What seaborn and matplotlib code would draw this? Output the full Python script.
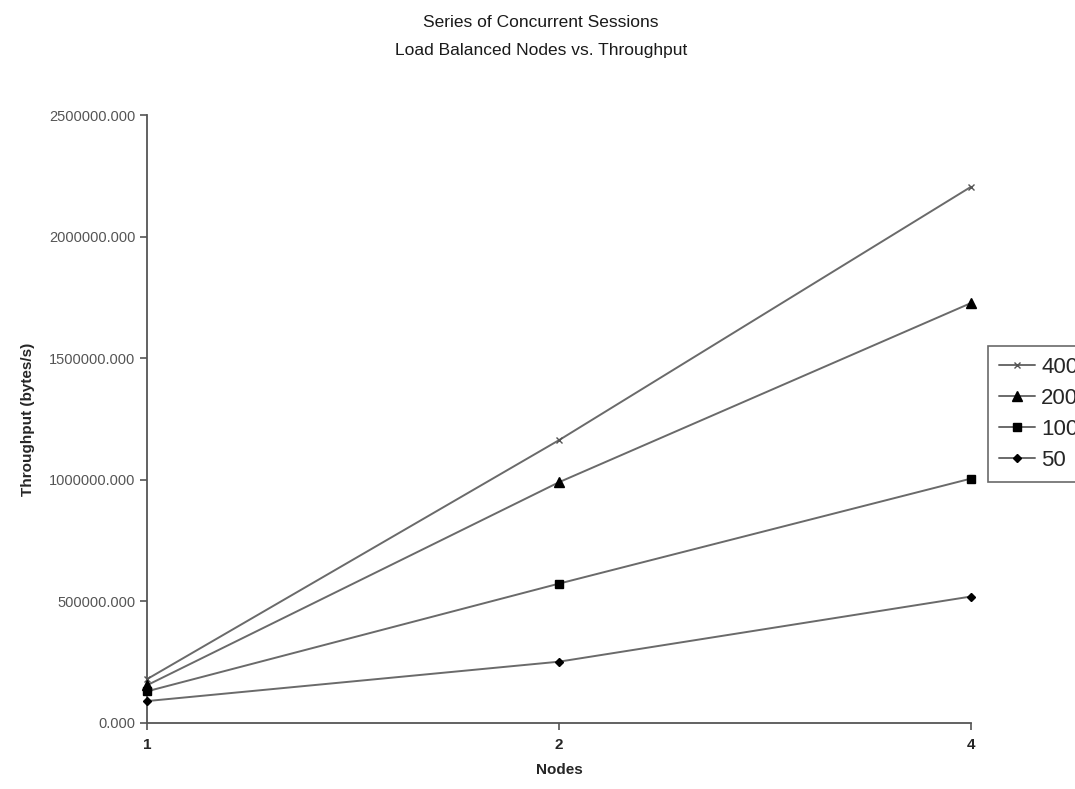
import pandas as pd
import matplotlib
matplotlib.use("Agg")
import matplotlib.pyplot as plt
import matplotlib.ticker as mticker
import seaborn as sns

# ── data ─────────────────────────────────────────────────────────────────────
nodes = ["1", "2", "4"]
sessions = ["400", "200", "100", "50"]
tp_400 = [180000, 1163000, 2205000]
tp_200 = [155000, 990000, 1727000]
tp_100 = [130000, 573000, 1005000]
tp_50 = [90000, 252000, 520000]
series = [tp_400, tp_200, tp_100, tp_50]
markers = ["x", "^", "s", "D"]
marker_sizes = [5, 6.5, 5.5, 4.5]

LINE_COLOR = "#6a6a6a"
MARK_COLOR = "#000000"

sns.set_style("ticks")
plt.rcParams["font.family"] = ["Liberation Sans", "DejaVu Sans"]

fig = plt.figure(figsize=(10.75, 7.89), dpi=100)
ax = fig.add_axes([0.1367, 0.0837, 0.9033 - 0.1367, 0.8542 - 0.0837])

for name, vals, mk, ms in zip(sessions, series, markers, marker_sizes):
    sns.lineplot(x=nodes, y=vals, ax=ax, color=LINE_COLOR, linewidth=1.4,
                 marker=mk, markersize=ms, markerfacecolor=MARK_COLOR,
                 markeredgecolor=MARK_COLOR if mk != "x" else "#555555",
                 markeredgewidth=1.0, label=name, sort=False, clip_on=False,
                 zorder=3)

ax.set_xlim(0, 2)
ax.set_ylim(0, 2500000)
ax.yaxis.set_major_locator(mticker.MultipleLocator(500000))
ax.yaxis.set_major_formatter(mticker.FormatStrFormatter("%.3f"))
ax.tick_params(axis="y", labelsize=10.5, labelcolor="#555555", color="#555555",
               length=5, width=1.2)
ax.tick_params(axis="x", labelsize=11, color="#555555", length=5, width=1.2, pad=6)
for lbl in ax.get_xticklabels():
    lbl.set_fontweight("bold")
sns.despine(ax=ax)
for s in ["left", "bottom"]:
    ax.spines[s].set_color("#555555")
    ax.spines[s].set_linewidth(1.3)

ax.set_xlabel("Nodes", fontsize=11, fontweight="bold", labelpad=8)
ax.set_ylabel("Throughput (bytes/s)", fontsize=11, fontweight="bold", labelpad=10)

fig.text(0.503, 0.972, "Series of Concurrent Sessions", ha="center", va="center",
         fontsize=12.5, color="#1a1a1a")
fig.text(0.503, 0.936, "Load Balanced Nodes vs. Throughput", ha="center", va="center",
         fontsize=12.5, color="#1a1a1a")

ax.get_legend().remove()
handles, labels = ax.get_legend_handles_labels()
leg = fig.legend(handles, labels, loc="upper left", bbox_to_anchor=(0.919, 0.562),
                 fontsize=16, frameon=True, fancybox=False, edgecolor="#444444",
                 handlelength=1.6, handletextpad=0.3, borderpad=0.5,
                 labelspacing=0.45, borderaxespad=0)
leg.get_frame().set_linewidth(1.2)

fig.savefig("out.png", dpi=100)
